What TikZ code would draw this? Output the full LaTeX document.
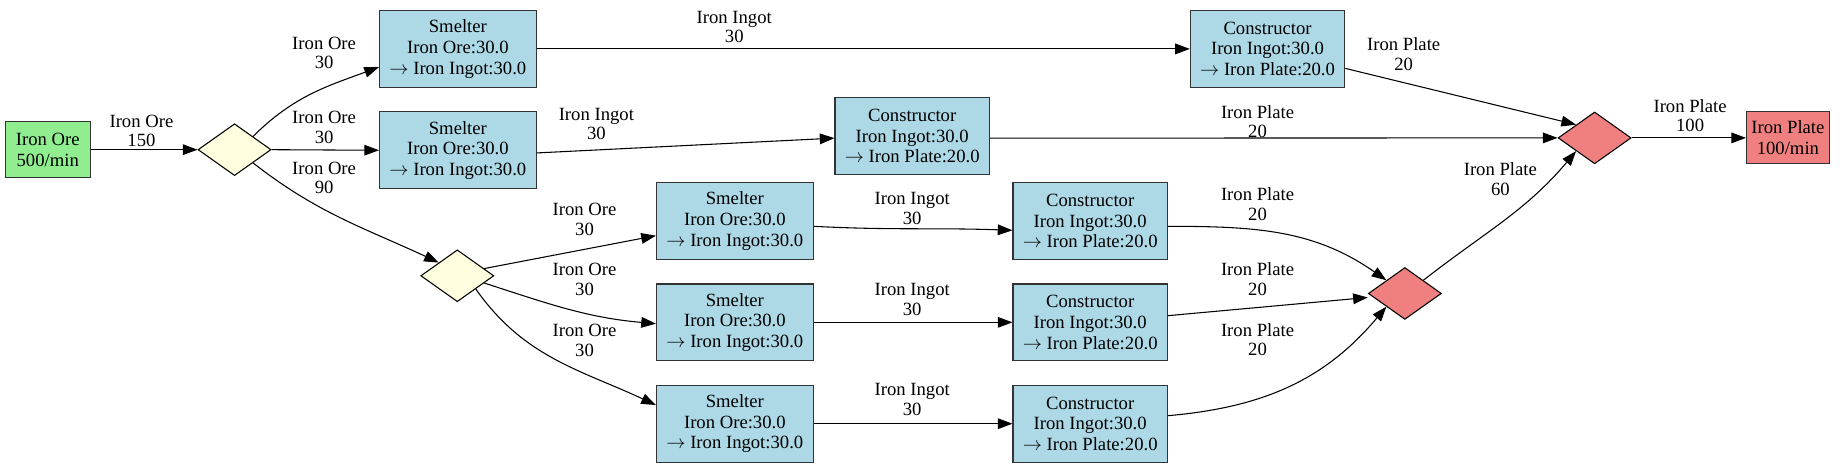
\documentclass[tikz,border=0pt]{standalone}
\usepackage{fontspec}
\setmainfont{Liberation Serif}
\usetikzlibrary{shapes.geometric,arrows.meta}
\definecolor{cgreen}{HTML}{90EE90}
\definecolor{cblue}{HTML}{ADD8E6}
\definecolor{cyellow}{HTML}{FFFFE0}
\definecolor{ccoral}{HTML}{F08080}
\begin{document}
\begin{tikzpicture}[x=0.884pt,y=-0.884pt,
  every node/.style={font=\fontsize{14pt}{15.5pt}\selectfont},
  box/.style={draw=black!80,line width=0.8pt,align=center,inner sep=1pt},
  smelter/.style={box,fill=cblue,minimum width=117.6pt,minimum height=57.5pt},
  constr/.style={box,fill=cblue,minimum width=115.8pt,minimum height=57.5pt},
  dia/.style={diamond,draw=black,line width=0.8pt,inner sep=0pt,minimum width=54.8pt,minimum height=38.9pt},
  lbl/.style={align=center,inner sep=0pt,font=\fontsize{14pt}{14.6pt}\selectfont},
  conn/.style={draw,line width=0.8pt,-{Triangle[length=11pt,width=8pt]}}
]
\useasboundingbox (0,0) rectangle (1568,397);
% nodes
\node[box,fill=cgreen,minimum width=63.5pt,minimum height=42.4pt] (src) at (40.5,127) {Iron Ore\\500/min};
\node[dia,fill=cyellow] (d1) at (199,127) {};
\node[dia,fill=cyellow] (d2) at (388,234) {};
\node[smelter] (sa) at (388.5,41.5) {Smelter\\Iron Ore:30.0\\$\rightarrow$ Iron Ingot:30.0};
\node[smelter] (sb) at (388.5,127.5) {Smelter\\Iron Ore:30.0\\$\rightarrow$ Iron Ingot:30.0};
\node[smelter] (sc) at (623.5,187.5) {Smelter\\Iron Ore:30.0\\$\rightarrow$ Iron Ingot:30.0};
\node[smelter] (sd) at (623.5,273.5) {Smelter\\Iron Ore:30.0\\$\rightarrow$ Iron Ingot:30.0};
\node[smelter] (se) at (623.5,359.5) {Smelter\\Iron Ore:30.0\\$\rightarrow$ Iron Ingot:30.0};
\node[constr] (ka) at (1075.5,41.5) {Constructor\\Iron Ingot:30.0\\$\rightarrow$ Iron Plate:20.0};
\node[constr] (kb) at (774,115.5) {Constructor\\Iron Ingot:30.0\\$\rightarrow$ Iron Plate:20.0};
\node[constr] (kc) at (925,187.5) {Constructor\\Iron Ingot:30.0\\$\rightarrow$ Iron Plate:20.0};
\node[constr] (kd) at (925,273.5) {Constructor\\Iron Ingot:30.0\\$\rightarrow$ Iron Plate:20.0};
\node[constr] (ke) at (925,359.5) {Constructor\\Iron Ingot:30.0\\$\rightarrow$ Iron Plate:20.0};
\node[dia,fill=ccoral] (m2) at (1192,249) {};
\node[dia,fill=ccoral] (m1) at (1353,117) {};
\node[box,fill=ccoral,minimum width=62pt,minimum height=38.9pt] (out) at (1517,117) {Iron Plate\\100/min};
% labels
\node[lbl] (l0) at (120,111) {Iron Ore\\150};
\node[lbl] (la) at (275,45) {Iron Ore\\30};
\node[lbl] (lb) at (275,108) {Iron Ore\\30};
\node[lbl] (ld2) at (275,151) {Iron Ore\\90};
\node[lbl] (lc) at (496,186) {Iron Ore\\30};
\node[lbl] (ld) at (496,237) {Iron Ore\\30};
\node[lbl] (le) at (496,289) {Iron Ore\\30};
\node[lbl] (lak) at (623,23) {Iron Ingot\\30};
\node[lbl] (lbk) at (506,105) {Iron Ingot\\30};
\node[lbl] (lck) at (774,177) {Iron Ingot\\30};
\node[lbl] (ldk) at (774,254) {Iron Ingot\\30};
\node[lbl] (lek) at (774,339) {Iron Ingot\\30};
\node[lbl] (lka) at (1191,46) {Iron Plate\\20};
\node[lbl] (lkb) at (1067,103) {Iron Plate\\20};
\node[lbl] (lkc) at (1067,173) {Iron Plate\\20};
\node[lbl] (lkd) at (1067,237) {Iron Plate\\20};
\node[lbl] (lke) at (1067,288) {Iron Plate\\20};
\node[lbl] (lm2) at (1273,152) {Iron Plate\\60};
\node[lbl] (lm1) at (1434,98) {Iron Plate\\100};
% connectors
\draw[conn] (src.east) -- (d1.west);
\draw[conn] (d1.north east) to[out=45,in=-160] ([yshift=-13.7pt]sa.west);
\draw[conn] (d1.east) -- (sb.west);
\draw[conn] (d1.south east) to[out=-38,in=155] (d2.north west);
\draw[conn] (d2.15) -- ([yshift=-11pt]sc.west);
\draw[conn] (d2.-15) to[out=-18,in=175] ([yshift=-1pt]sd.west);
\draw[conn] (d2.south east) to[out=-55,in=155] ([yshift=14pt]se.west);
\draw[conn] (sa.east) -- (ka.west);
\draw[conn] ([yshift=-2pt]sb.east) -- ([yshift=-1.5pt]kb.west);
\draw[conn] ([yshift=-4pt]sc.east) to[out=-3,in=178] ([yshift=-7pt]kc.west);
\draw[conn] (sd.east) -- (kd.west);
\draw[conn] (se.east) -- (ke.west);
\draw[conn] ([yshift=-14.6pt]ka.east) -- (m1.north west);
\draw[conn] ([yshift=-1.5pt]kb.east) -- (m1.west);
\draw[conn] ([yshift=-4pt]kc.east) to[out=0,in=145] (m2.north west);
\draw[conn] ([yshift=5pt]kd.east) -- ([yshift=-3pt]m2.west);
\draw[conn] ([yshift=6pt]ke.east) to[out=5,in=-130] (m2.south west);
\draw[conn] (m2.north east) to[out=38,in=-130] (m1.south west);
\draw[conn] (m1.east) -- (out.west);
\end{tikzpicture}
\end{document}
